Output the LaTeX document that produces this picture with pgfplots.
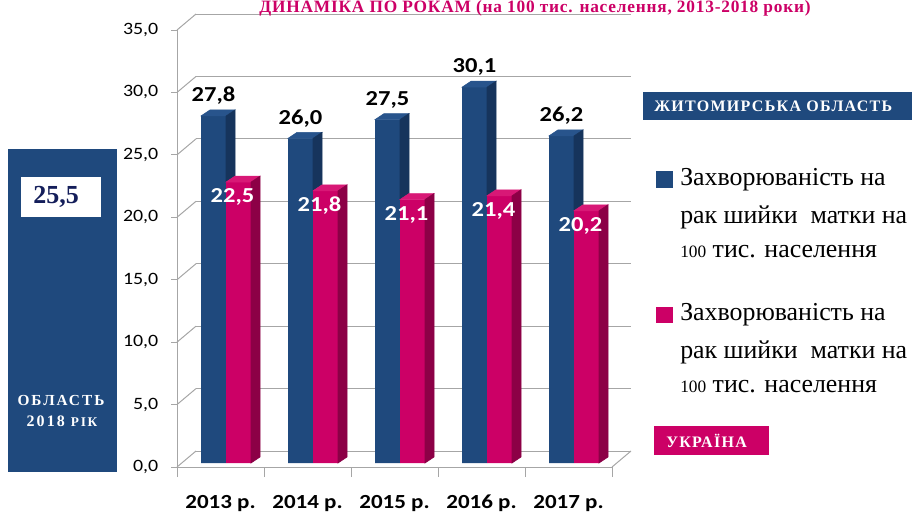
\documentclass[border=0pt]{standalone}
\usepackage{fontspec}
\setmainfont{Liberation Serif}
\newfontfamily\calib[FakeStretch=1.15]{Carlito}
\usepackage{pgfplots}
\usepackage{pgfplotstable}
\pgfplotsset{compat=1.18}
\definecolor{navy}{RGB}{31,73,125}
\definecolor{topblue}{RGB}{40,84,140}
\definecolor{sideblue}{RGB}{22,52,92}
\definecolor{pinkf}{RGB}{204,0,102}
\definecolor{toppink}{RGB}{216,24,118}
\definecolor{sidepink}{RGB}{140,0,70}
\definecolor{gridg}{RGB}{166,166,166}
\definecolor{darknavy}{RGB}{20,30,90}
\pgfplotstableread{
x    zh    ua
0.5  27.8  22.5
1.5  26.0  21.8
2.5  27.5  21.1
3.5  30.1  21.4
4.5  26.2  20.2
}\data
% top face and the visible part of the side face of a 3D bar
\pgfdeclareplotmark{bbox}{%
  \fill[topblue] (-14.625pt,0pt) -- ++(6.75pt,4.5pt) -- ++(18.75pt,0pt) -- ++(-6.75pt,-4.5pt) -- cycle;
  \fill[sideblue] (4.125pt,0pt) -- ++(6.75pt,4.5pt) -- ++(0pt,{-(\h-\hp)*9.3643pt}) -- ++(-6.75pt,-4.5pt) -- cycle;}
\pgfdeclareplotmark{pbox}{%
  \fill[toppink] (4.125pt,0pt) -- ++(6.75pt,4.5pt) -- ++(18.75pt,0pt) -- ++(-6.75pt,-4.5pt) -- cycle;
  \fill[sidepink] (22.875pt,0pt) -- ++(6.75pt,4.5pt) -- ++(0pt,{-\hp*9.3643pt}) -- ++(-6.75pt,-4.5pt) -- cycle;}
\begin{document}
\begin{tikzpicture}
\useasboundingbox (0,0) rectangle (684pt,384pt);
\begin{axis}[at={(132.75pt,33.75pt)}, anchor=south west, scale only axis,
  width=326.25pt, height=327.75pt, xmin=0, xmax=5, ymin=0, ymax=35, clip=false,
  axis x line*=bottom, axis y line*=left,
  axis line style={gridg, line width=0.75pt},
  tick align=outside, major tick length=4.5pt,
  ytick={0,5,...,35}, ymajorgrids,
  major grid style={gridg, line width=0.75pt, xshift=14.25pt, yshift=12pt},
  y tick style={gridg, line width=0.75pt},
  xtick={0.5,1.5,2.5,3.5,4.5},
  xticklabels={2013 р.,2014 р.,2015 р.,2016 р.,2017 р.},
  x tick style={draw=none},
  extra x ticks={0,1,2,3,4,5}, extra x tick labels={},
  extra x tick style={x tick style={draw=gridg, line width=0.75pt}, major tick length=7.5pt},
  yticklabel style={font=\calib\fontsize{13}{13}\selectfont, xshift=-6pt},
  xticklabel style={font=\calib\bfseries\fontsize{15}{15}\selectfont, yshift=-13pt},
  /pgf/number format/.cd, use comma, fixed, fixed zerofill, precision=1, assume math mode=true
]
\pgfplotsinvokeforeach{0,5,...,35}{\draw[gridg, line width=0.75pt] (axis cs:0,#1) -- ++(14.25pt,12pt);}
\draw[gridg, line width=0.75pt] (axis cs:5,0) -- ++(14.25pt,12pt);
% Zhytomyr region: front faces
\addplot[ybar, bar width=18.75pt, bar shift=-5.25pt, fill=navy, draw=none, yshift=3pt,
  nodes near coords,
  every node near coord/.append style={font=\calib\bfseries\fontsize{16}{16}\selectfont, text=black, anchor=center, yshift=15pt, xshift=-5.25pt}]
  table[x=x, y=zh] {\data};
% Ukraine: front faces
\addplot[ybar, bar width=18.75pt, bar shift=13.5pt, fill=pinkf, draw=none, yshift=3pt]
  table[x=x, y=ua] {\data};
% 3D top and side faces
\addplot[only marks, mark=bbox, yshift=3pt,
  visualization depends on={\thisrow{zh} \as \h},
  visualization depends on={\thisrow{ua} \as \hp}]
  table[x=x, y=zh] {\data};
\addplot[only marks, mark=pbox, yshift=3pt,
  visualization depends on={\thisrow{ua} \as \hp},
  nodes near coords,
  every node near coord/.append style={font=\calib\bfseries\fontsize{16}{16}\selectfont, text=white, anchor=center, yshift=-11.25pt, xshift=9pt}]
  table[x=x, y=ua] {\data};
\end{axis}
\begin{scope}[x=0.75pt,y=-0.75pt,yshift=384pt]
  % title
  \node[anchor=base, text=pinkf, inner sep=0, font=\bfseries\fontsize{13}{13}\selectfont\addfontfeatures{LetterSpace=4.5}] at (535,13) {ДИНАМІКА ПО РОКАМ (на 100 тис. населення, 2013-2018 роки)};
  % left panel
  \fill[navy] (8,149) rectangle (117,472);
  \fill[white] (21,177) rectangle (101,217);
  \node[font=\bfseries\fontsize{19.5}{20}\selectfont, text=darknavy] at (56,197) {25,5};
  \node[white, inner sep=0, font=\bfseries\fontsize{11.5}{12}\selectfont\addfontfeatures{LetterSpace=13}] at (61,400) {ОБЛАСТЬ};
  \node[white, inner sep=0, font=\bfseries\fontsize{12}{12}\selectfont\addfontfeatures{LetterSpace=13}] at (62,421) {2018 {\fontsize{10}{10}\selectfont РІК}};
  % banners
  \fill[navy] (643,92) rectangle (912,120);
  \node[anchor=west, white, inner sep=0, font=\bfseries\fontsize{12}{12}\selectfont\addfontfeatures{LetterSpace=8}] at (654,106) {ЖИТОМИРСЬКА ОБЛАСТЬ};
  \fill[pinkf] (654,426) rectangle (769,455);
  \node[anchor=west, white, inner sep=0, font=\bfseries\fontsize{12}{12}\selectfont\addfontfeatures{LetterSpace=8}] at (666,441) {УКРАЇНА};
  % legend
  \fill[navy] (656,171) rectangle (673,188);
  \node[anchor=base west, inner sep=0, font=\fontsize{19.4}{19}\selectfont] at (680,185) {Захворюваність на};
  \node[anchor=base west, inner sep=0, font=\fontsize{19.4}{19}\selectfont] at (680,223) {рак шийки \ матки на};
  \node[anchor=base west, inner sep=0, font=\fontsize{19.4}{19}\selectfont] at (680,257) {{\fontsize{13}{13}\selectfont 100} тис. населення};
  \fill[pinkf] (656,307) rectangle (673,323);
  \node[anchor=base west, inner sep=0, font=\fontsize{19.4}{19}\selectfont] at (680,320) {Захворюваність на};
  \node[anchor=base west, inner sep=0, font=\fontsize{19.4}{19}\selectfont] at (680,358) {рак шийки \ матки на};
  \node[anchor=base west, inner sep=0, font=\fontsize{19.4}{19}\selectfont] at (680,392) {{\fontsize{13}{13}\selectfont 100} тис. населення};
\end{scope}
\end{tikzpicture}
\end{document}
